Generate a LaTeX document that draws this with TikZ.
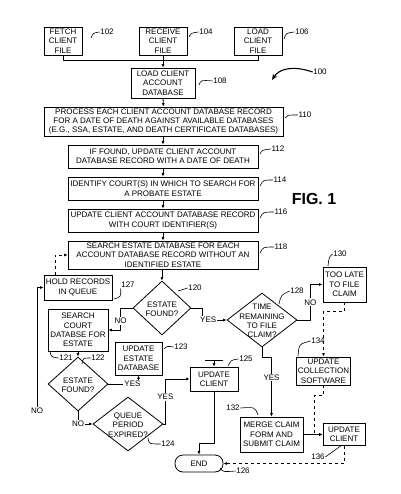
\documentclass[tikz,border=0pt]{standalone}
\usepackage{fontspec}
\setmainfont{Liberation Sans}
\usetikzlibrary{shapes.geometric,arrows.meta}
\newcommand{\dgfs}{\fontsize{8}{9.4}\selectfont}
\tikzset{
 box/.style={draw, line width=0.8pt, align=center, inner sep=0pt, font=\dgfs},
 dia/.style={draw, diamond, line width=0.8pt, inner sep=0pt},
 txt/.style={align=center, inner sep=0pt, font=\dgfs},
 num/.style={inner sep=0.5pt, font=\dgfs},
 lead/.style={line width=0.6pt},
 arr/.style={line width=0.8pt, -{Latex[length=3.5pt,width=3pt]}},
 ln/.style={line width=0.8pt},
 yn/.style={fill=white, inner sep=1pt, font=\dgfs},
}
\begin{document}
\begin{tikzpicture}[x=1pt,y=-1pt]
\useasboundingbox (0,0) rectangle (400,494);
% top boxes
\node[box, minimum width=38pt, minimum height=28pt] (fetch) at (63,41) {FETCH\\CLIENT\\FILE};
\node[box, minimum width=48pt, minimum height=28pt] (receive) at (163,41) {RECEIVE\\CLIENT\\FILE};
\node[box, minimum width=48pt, minimum height=28pt] (loadfile) at (258,41) {LOAD\\CLIENT\\FILE};
\node[box, minimum width=64pt, minimum height=30pt] (load) at (163,83) {LOAD CLIENT\\ACCOUNT\\DATABASE};
\node[box, minimum width=239pt, minimum height=29pt] (b110) at (163.5,121.5) {PROCESS EACH CLIENT ACCOUNT DATABASE RECORD\\FOR A DATE OF DEATH AGAINST AVAILABLE DATABASES\\(E.G., SSA, ESTATE, AND DEATH CERTIFICATE DATABASES)};
\node[box, minimum width=190pt, minimum height=23pt] (b112) at (163,156.5) {IF FOUND, UPDATE CLIENT ACCOUNT\\DATABASE RECORD WITH A DATE OF DEATH};
\node[box, minimum width=190pt, minimum height=23pt] (b114) at (163,188.5) {IDENTIFY COURT(S) IN WHICH TO SEARCH FOR\\A PROBATE ESTATE};
\node[box, minimum width=190pt, minimum height=23pt] (b116) at (163,220.5) {UPDATE CLIENT ACCOUNT DATABASE RECORD\\WITH COURT IDENTIFIER(S)};
\node[box, minimum width=190pt, minimum height=28pt] (b118) at (163,255) {SEARCH ESTATE DATABASE FOR EACH\\ACCOUNT DATABASE RECORD WITHOUT AN\\IDENTIFIED ESTATE};
\node[font=\fontsize{16}{16}\bfseries\selectfont, inner sep=0pt] (fig) at (314,199) {FIG. 1};
% lower nodes
\node[box, minimum width=68pt, minimum height=25pt] (hold) at (78,287.5) {HOLD RECORDS\\IN QUEUE};
\node[dia, minimum width=58pt, minimum height=54pt] (d120) at (162,308) {};
\node[txt] (t120) at (162,309) {ESTATE\\FOUND?};
\node[box, minimum width=60pt, minimum height=42pt] (b121) at (78,330) {SEARCH\\COURT\\DATABSE FOR\\ESTATE};
\node[dia, minimum width=60pt, minimum height=54pt] (d122) at (78,384) {};
\node[txt] (t122) at (78,385) {ESTATE\\FOUND?};
\node[box, minimum width=47pt, minimum height=33pt] (b123) at (138.5,358.5) {UPDATE\\ESTATE\\DATABASE};
\node[dia, minimum width=70pt, minimum height=54pt] (d124) at (128,424) {};
\node[txt] (t124) at (128,425) {QUEUE\\PERIOD\\EXPIRED?};
\node[box, minimum width=48pt, minimum height=24pt] (b125) at (214,379) {UPDATE\\CLIENT};
\node[dia, minimum width=70pt, minimum height=54pt] (d128) at (262,320) {};
\node[txt] (t128) at (262,321) {TIME\\REMAINING\\TO FILE\\CLAIM?};
\node[box, minimum width=43pt, minimum height=35pt] (toolate) at (344.5,284.5) {TOO LATE\\TO FILE\\CLAIM};
\node[box, minimum width=54pt, minimum height=28pt] (collect) at (323.5,371) {UPDATE\\COLLECTION\\SOFTWARE};
\node[box, minimum width=63pt, minimum height=35pt] (merge) at (271.5,434.5) {MERGE CLAIM\\FORM AND\\SUBMIT CLAIM};
\node[box, minimum width=42pt, minimum height=22pt] (b136) at (344,434.5) {UPDATE\\CLIENT};
\node[draw, line width=0.8pt, rounded corners=8pt, minimum width=48pt, minimum height=17pt, inner sep=0pt, font=\dgfs] (end) at (199,463.5) {END};
\node[num] (nol) at (37,411) {NO};
\coordinate (j125) at (214,360);
% connectors
\draw[ln] (fetch.south) -- ++(0,5) -| (loadfile.south);
\draw[arr] (receive.south) -- (load.north);
\draw[arr] (load.south) -- (b110.north);
\draw[arr] (b110.south -| b112.north) -- (b112.north);
\draw[arr] (b112.south) -- (b114.north);
\draw[arr] (b114.south) -- (b116.north);
\draw[arr] (b116.south) -- (b118.north);
\draw[arr] (b118.south -| d120.north) -- (d120.north);
\draw[arr] (d120.west) -- ++(-12,0) |- (b121.east) node[yn, pos=0.3] {NO};
\draw[arr] (d120.east) -- ++(11,0) |- (d128.west) node[yn, pos=0.62] {YES};
\draw[arr] (b121.south) -- (d122.north);
\draw[arr] (d122.east) -| (b123.south) node[yn, pos=0.4] {YES};
\draw[arr] (d122.south) |- (d124.west) node[yn, pos=0.5] {NO};
\draw[arr] (d124.east) -- ++(2,0) |- (b125.west) node[yn, pos=0.3] {YES};
\draw[ln] ([xshift=-9pt]j125) -- ([xshift=9pt]j125);
\draw[arr] (j125) -- (b125.north);
\draw[arr] (b125.south) -- ++(0,52) -| (end.north);
\draw[arr] (d128.east) -- ++(13,0) |- (toolate.west) node[yn, pos=0.25] {NO};
\draw[arr] (d128.south) -- ++(0,10) -| (merge.north) node[yn, pos=0.67] {YES};
\draw[arr, dashed] (toolate.south) -- ++(0,9) -| (collect.north);
\draw[arr, dashed] (collect.south) -- ++(0,10) -- ++(-9,0) |- (b136.west);
\draw[arr] (merge.east) -- (b136.west);
\draw[arr, dashed] (b136.south) |- (end.east);
\draw[arr, dashed] ([xshift=-23pt]hold.north) |- (b118.west);
\draw[arr] (nol.north) |- (hold.west);
% reference numerals
\node[num] (l102) at (107,32) {102};
\node[num] (l104) at (206,32) {104};
\node[num] (l106) at (302,32) {106};
\node[num] (l108) at (220,81) {108};
\node[num] (l100) at (320,72) {100};
\node[num] (l110) at (305,115) {110};
\node[num] (l112) at (278,149) {112};
\node[num] (l114) at (280,180) {114};
\node[num] (l116) at (281,212) {116};
\node[num] (l118) at (281,247) {118};
\node[num] (l120) at (195,288) {120};
\node[num] (l121) at (66,358) {121};
\node[num] (l122) at (98,358) {122};
\node[num] (l123) at (181,347) {123};
\node[num] (l124) at (168,444) {124};
\node[num] (l125) at (246,359) {125};
\node[num] (l126) at (243,471) {126};
\node[num] (l127) at (128,285) {127};
\node[num] (l128) at (297,291) {128};
\node[num] (l130) at (340,254) {130};
\node[num] (l132) at (233,408) {132};
\node[num] (l134) at (318,341) {134};
\node[num] (l136) at (318,457) {136};
% leaders
\draw[lead] (91,38) .. controls (93,33) .. (l102.west);
\draw[lead] (189,37) .. controls (191,33) .. (l104.west);
\draw[lead] (284,39) .. controls (286,33) .. (l106.west);
\draw[lead] (199,85) .. controls (201,80) .. (l108.west);
\draw[lead] (285,118) .. controls (287,115) .. (l110.west);
\draw[lead] (260,154) .. controls (262,150) .. (l112.west);
\draw[lead] (260,186) .. controls (263,180) .. (l114.west);
\draw[lead] (260,218) .. controls (263,212) .. (l116.west);
\draw[lead] (260,253) .. controls (263,247) .. (l118.west);
\draw[lead] (178,291) -- (l120.west);
\draw[lead] (50,351) .. controls (51,357) .. (l121.west);
\draw[lead] (82,364) .. controls (83,358) .. (l122.west);
\draw[lead] (164,349) .. controls (167,346) .. (l123.west);
\draw[lead] (148,438) .. controls (149,444) .. (l124.west);
\draw[lead] (228,366) .. controls (231,360) .. (l125.west);
\draw[lead] (220,468) .. controls (223,472) .. (l126.west);
\draw[lead] (114,299) .. controls (121,297) .. (l127.south west);
\draw[lead] (279,304) .. controls (281,295) .. (l128.west);
\draw[lead] (328,266) .. controls (329,257) .. (l130.west);
\draw[lead] (l132.east) .. controls (255,407) .. (258,415);
\draw[lead] (298,356) .. controls (299,344) .. (l134.west);
\draw[lead] (l136.east) -- (342,445);
\draw[line width=1.1pt, -{Stealth[length=6pt,width=5pt]}] (l100.west) .. controls (292,65) and (279,69) .. (272,80);
\end{tikzpicture}
\end{document}
